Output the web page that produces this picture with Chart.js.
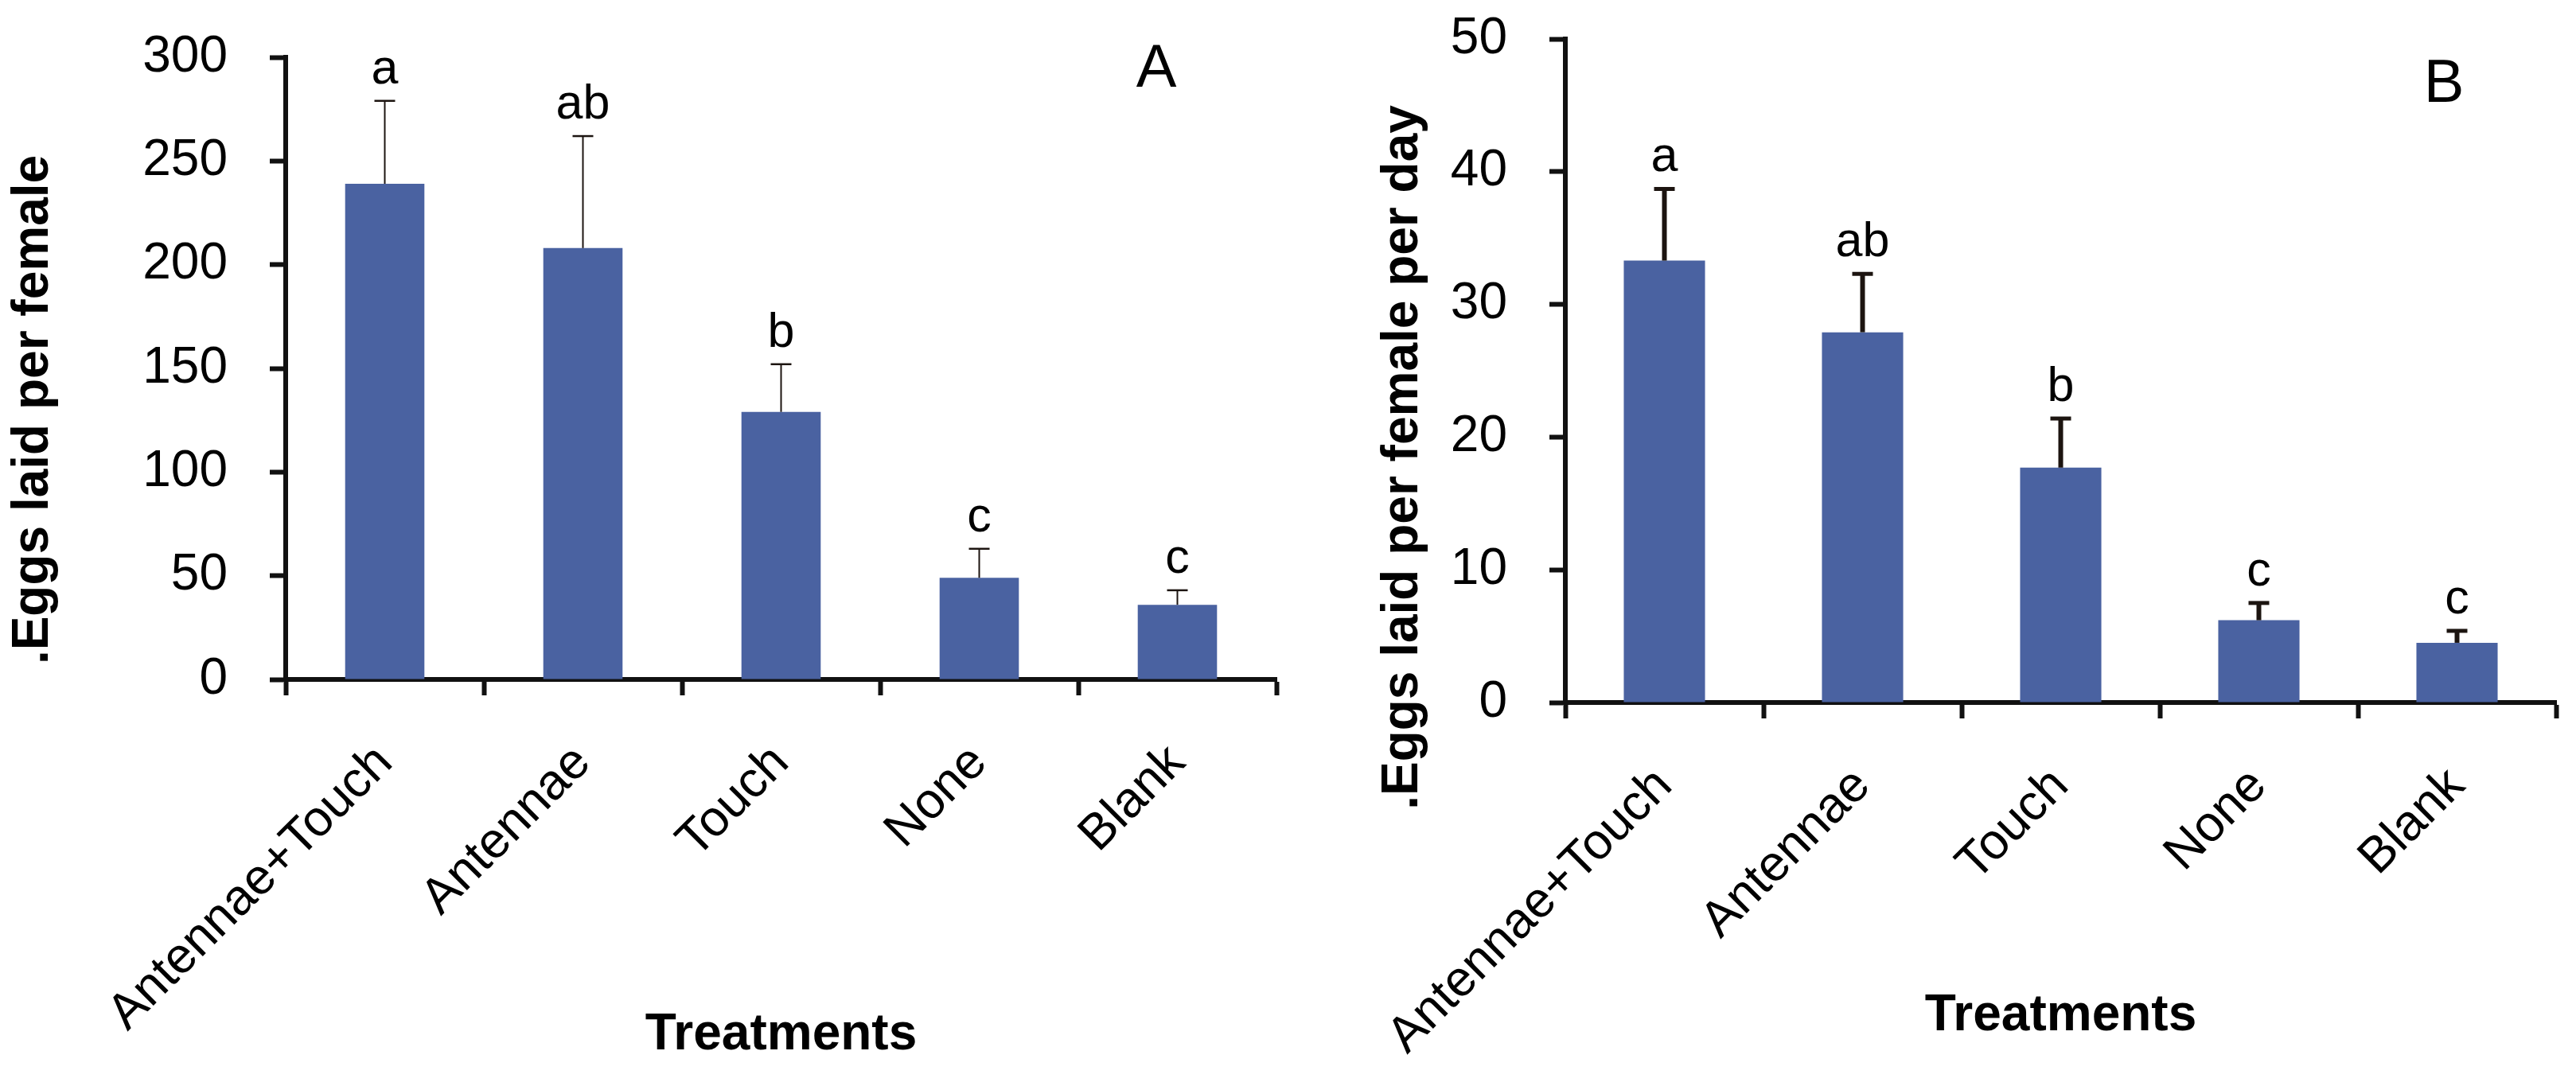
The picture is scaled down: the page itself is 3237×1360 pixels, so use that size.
<!DOCTYPE html>
<html>
<head>
<meta charset="utf-8">
<script src="https://cdn.jsdelivr.net/npm/chart.js@4.4.1/dist/chart.umd.min.js"></script>
<style>
    body { margin: 0; background: #fff; width: 3237px; height: 1360px; overflow: hidden; position: relative; }
    canvas { position: absolute; top: 0; }
    #chart-a { left: 0; }
    #chart-b { left: 1618px; }
</style>
</head>
<body>
<canvas id="chart-a" width="1618" height="1360"></canvas>
<canvas id="chart-b" width="1619" height="1360"></canvas>
<script>
// categories
const treatments = ["Antennae+Touch", "Antennae", "Touch", "None", "Blank"]

// panel A: eggs per female (mean and top of error bar)
const eggsPerFemale = [239, 208, 129, 49, 36]
const eggsPerFemaleUpper = [279, 262, 152, 63, 43]
const lettersA = ["a", "ab", "b", "c", "c"]

// panel B: eggs per female per day
const eggsPerDay = [33.3, 27.9, 17.7, 6.2, 4.5]
const eggsPerDayUpper = [38.7, 32.3, 21.4, 7.5, 5.4]
const lettersB = ["a", "ab", "b", "c", "c"]

const FONT = "'Liberation Sans', Arial, sans-serif"
const BAR_COLOR = "#4a62a1"

// error bars, letters, panel label and y title
const extrasPlugin = {
    id: "extras",
    afterDatasetsDraw(chart, args, opts) {
        const ctx = chart.ctx
        const yScale = chart.scales.y
        const meta = chart.getDatasetMeta(0)
        const means = chart.data.datasets[0].data
        ctx.save()
        ctx.strokeStyle = "#1c1410"
        ctx.lineCap = "butt"
        meta.data.forEach((bar, i) => {
            const yTop = yScale.getPixelForValue(opts.upper[i])
            const yMean = yScale.getPixelForValue(means[i])
            ctx.lineWidth = opts.stemWidth
            ctx.beginPath()
            ctx.moveTo(bar.x, yMean)
            ctx.lineTo(bar.x, yTop)
            ctx.stroke()
            ctx.lineWidth = opts.capThick
            ctx.beginPath()
            ctx.moveTo(bar.x - 13, yTop)
            ctx.lineTo(bar.x + 13, yTop)
            ctx.stroke()

            ctx.fillStyle = "#000"
            ctx.font = "61px " + FONT
            ctx.textAlign = "center"
            ctx.textBaseline = "alphabetic"
            ctx.fillText(opts.letters[i], bar.x, yTop - 22)
        })

        // panel letter
        ctx.font = "76px " + FONT
        ctx.fillText(opts.panel, opts.panelX, opts.panelY)

        // y axis title
        ctx.translate(opts.titleX, opts.titleY)
        ctx.rotate(-Math.PI / 2)
        ctx.textBaseline = "middle"
        ctx.font = "bold 64px " + FONT
        ctx.fillText(opts.yTitle, 0, 0)
        ctx.restore()
    }
}

const makeChart = (canvas, cfg) => new Chart(canvas.getContext("2d"), {
    type: "bar",
    data: {
        labels: treatments,
        datasets: [{
            data: cfg.values,
            backgroundColor: BAR_COLOR,
            borderWidth: 0,
            barPercentage: cfg.barPct,
            categoryPercentage: 1
        }]
    },
    options: {
        responsive: false,
        animation: false,
        devicePixelRatio: 1,
        layout: { padding: { left: 0, top: cfg.top, right: cfg.right, bottom: 0 } },
        plugins: {
            legend: { display: false },
            tooltip: { enabled: false },
            extras: {
                upper: cfg.upper,
                letters: cfg.letters,
                stemWidth: cfg.stemWidth,
                capThick: cfg.capThick,
                panel: cfg.panel,
                panelX: 1453,
                panelY: cfg.panelY,
                yTitle: cfg.yTitle,
                titleX: cfg.titleX,
                titleY: cfg.titleY
            }
        },
        scales: {
            x: {
                border: { display: true, color: "#111", width: 6 },
                grid: { display: true, drawOnChartArea: false, drawTicks: true, tickLength: 20, tickWidth: 6, tickColor: "#111", offset: true },
                ticks: {
                    autoSkip: false, minRotation: 45, maxRotation: 45, padding: 48,
                    color: "#000", font: { family: FONT, size: 63 }
                },
                title: {
                    display: true, text: "Treatments", color: "#000",
                    font: { family: FONT, size: 64, weight: "bold" },
                    padding: { top: 0, bottom: cfg.xTitlePad }
                },
                afterFit: scale => {
                    scale.height = 1360 - cfg.bottom
                    scale.paddingLeft = 0
                    scale.paddingRight = 0
                }
            },
            y: {
                min: 0, max: cfg.max,
                border: { display: true, color: "#111", width: 6 },
                grid: { display: true, drawOnChartArea: false, drawTicks: true, tickLength: 20, tickWidth: 6, tickColor: "#111" },
                ticks: {
                    stepSize: cfg.step, padding: 53,
                    color: "#000", font: { family: FONT, size: 64 }
                },
                afterFit: scale => {
                    scale.width = cfg.left
                    scale.paddingTop = 0
                    scale.paddingBottom = 0
                }
            }
        }
    },
    plugins: [extrasPlugin]
})

makeChart(document.getElementById("chart-a"), {
    values: eggsPerFemale, upper: eggsPerFemaleUpper, letters: lettersA,
    max: 300, step: 50, barPct: 0.4,
    left: 359, top: 72, right: 14, bottom: 854,
    stemWidth: 2, capThick: 2.5,
    panel: "A", panelY: 109,
    yTitle: ".Eggs laid per female", titleX: 42, titleY: 515,
    xTitlePad: 20
})

makeChart(document.getElementById("chart-b"), {
    values: eggsPerDay, upper: eggsPerDayUpper, letters: lettersB,
    max: 50, step: 10, barPct: 0.41,
    left: 349, top: 49, right: 25, bottom: 883,
    stemWidth: 6, capThick: 5,
    panel: "B", panelY: 128,
    yTitle: ".Eggs laid per female per day", titleX: 145, titleY: 575,
    xTitlePad: 44
})
</script>
</body>
</html>
